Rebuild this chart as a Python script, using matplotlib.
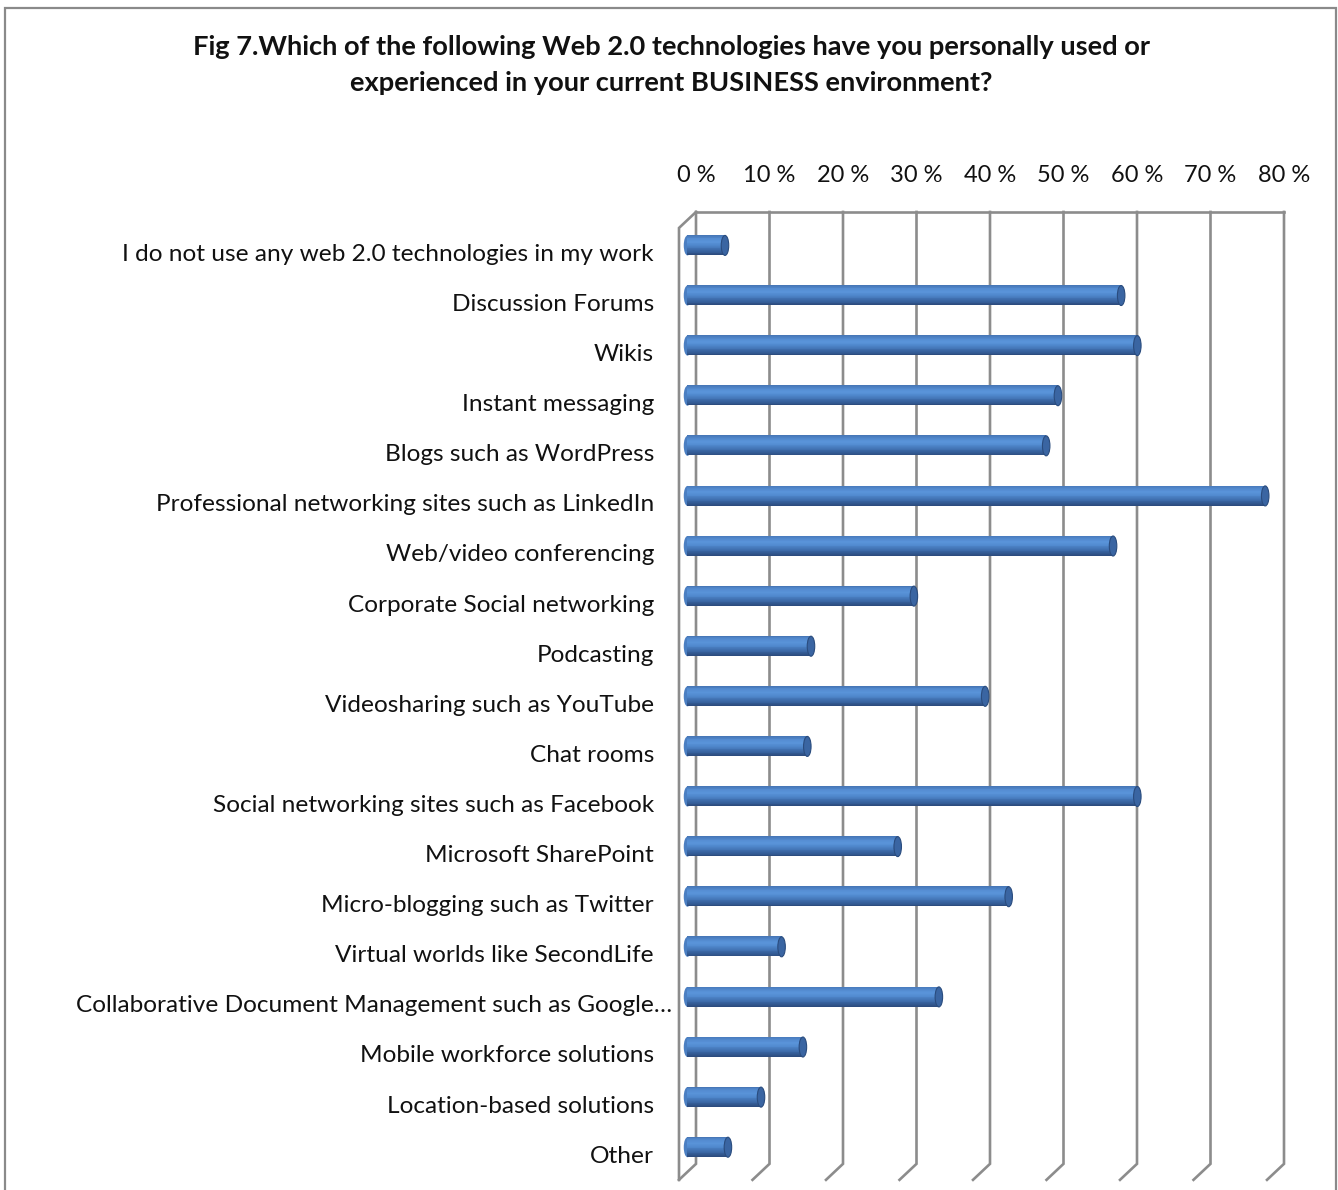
import matplotlib.pyplot as plt
import numpy as np
from matplotlib.colors import LinearSegmentedColormap
from matplotlib.patches import Ellipse, Rectangle

categories = [
    "I do not use any web 2.0 technologies in my work",
    "Discussion Forums",
    "Wikis",
    "Instant messaging",
    "Blogs such as WordPress",
    "Professional networking sites such as LinkedIn",
    "Web/video conferencing",
    "Corporate Social networking",
    "Podcasting",
    "Videosharing such as YouTube",
    "Chat rooms",
    "Social networking sites such as Facebook",
    "Microsoft SharePoint",
    "Micro-blogging such as Twitter",
    "Virtual worlds like SecondLife",
    "Collaborative Document Management such as Google\u2026",
    "Mobile workforce solutions",
    "Location-based solutions",
    "Other",
]
percent_used = [5.1, 59.0, 61.2, 50.4, 48.8, 78.6, 57.9, 30.8, 16.8, 40.5,
                16.3, 61.2, 28.6, 43.7, 12.8, 34.2, 15.7, 10.0, 5.5]
tick_values = [0, 10, 20, 30, 40, 50, 60, 70, 80]
tick_labels = ["0 %", "10 %", "20 %", "30 %", "40 %", "50 %", "60 %", "70 %", "80 %"]

title = ("Fig 7.Which of the following Web 2.0 technologies have you personally used or\n"
         "experienced in your current BUSINESS environment?")

# --- layout (pixels) ---
W, H = 1338, 1190
px_per_pct = 7.35
row_px = 50.1
ax_left, ax_right, ax_top, ax_bot = 679, 1300, 200, 1186
row0 = 253  # front-plane centre of the first category

DX = 17 / px_per_pct      # depth of the 3-D box in % units
DY = -16 / row_px         # depth in category units (upwards)
bar_h = 20 / row_px
cap_w = 7.5 / px_per_pct

grid_col = "#8c8c8c"
font = ["Lato", "DejaVu Sans"]

fig = plt.figure(figsize=(W / 100, H / 100), dpi=100)
plt.rcParams["font.family"] = font

ax = fig.add_axes([ax_left / W, 1 - ax_bot / H,
                   (ax_right - ax_left) / W, (ax_bot - ax_top) / H])
ax.set_xlim(0, (ax_right - ax_left) / px_per_pct)
ax.set_ylim((ax_bot - row0) / row_px, (ax_top - row0) / row_px)
for s in ax.spines.values():
    s.set_visible(False)

n = len(categories)
y_lo, y_hi = -0.5, n - 0.5
xmax = tick_values[-1]

# back wall gridlines + floor slants
for v in tick_values:
    ax.plot([v + DX, v + DX, v], [y_lo + DY, y_hi + DY, y_hi],
            color=grid_col, lw=1.9, solid_joinstyle="miter", zorder=1, clip_on=False)
ax.plot([DX, xmax + DX], [y_lo + DY, y_lo + DY], color=grid_col, lw=1.9, zorder=1, clip_on=False)
# left side wall
ax.plot([0, 0, DX], [y_hi, y_lo, y_lo + DY], color=grid_col, lw=1.9,
        solid_joinstyle="miter", zorder=1, clip_on=False)

# cylinder bars: stacked strips give the shading across the tube
shade = LinearSegmentedColormap.from_list(
    "tube", ["#4574b4", "#538bd0", "#5a94da", "#5089cd", "#4273b4", "#355f9a", "#2b4a7b"])
n_strips = 24
y_pos = np.arange(n) + DY / 2
x0 = DX / 2
for k in range(n_strips):
    frac = (k + 0.5) / n_strips
    ax.barh(y_pos - bar_h / 2 + k * bar_h / n_strips, percent_used, left=x0,
            height=bar_h / n_strips * 1.05, align="edge",
            color=shade(frac), lw=0, zorder=3)
for yc, v in zip(y_pos, percent_used):
    ax.add_patch(Ellipse((x0, yc + bar_h / n_strips / 2), cap_w, bar_h, facecolor="#4b7fc2",
                         edgecolor="none", zorder=2))
    ax.add_patch(Ellipse((x0 + v, yc + bar_h / n_strips / 2), cap_w, bar_h,
                         facecolor="#3a65a2", edgecolor="#2a4c7e", lw=0.8, zorder=4))

# category labels on the front plane
ax.set_yticks([])
for i, lab in enumerate(categories):
    off = -5 if lab.endswith("\u2026") else -18
    ax.annotate(lab, xy=(0, i), xytext=(off, -1), textcoords="offset points",
                ha="right", va="center", fontsize=17.6, color="#111111",
                annotation_clip=False)

# percentage scale along the back wall
ax.xaxis.tick_top()
ax.set_xticks([v + DX for v in tick_values])
ax.set_xticklabels(tick_labels, fontsize=17, color="#111111")
ax.tick_params(axis="x", length=0, pad=10)

fig.text(0.5015, 1 - 65 / H, title, ha="center", va="center", fontsize=19.6,
         fontweight="bold", linespacing=1.62, color="#111111")

# chart frame
fig.add_artist(Rectangle((5 / W, -0.01), (1336 - 5) / W, 1 - 8 / H + 0.01,
                         transform=fig.transFigure, fill=False,
                         edgecolor="#8a8a8a", lw=1.6))

fig.savefig("out.png", dpi=100)
